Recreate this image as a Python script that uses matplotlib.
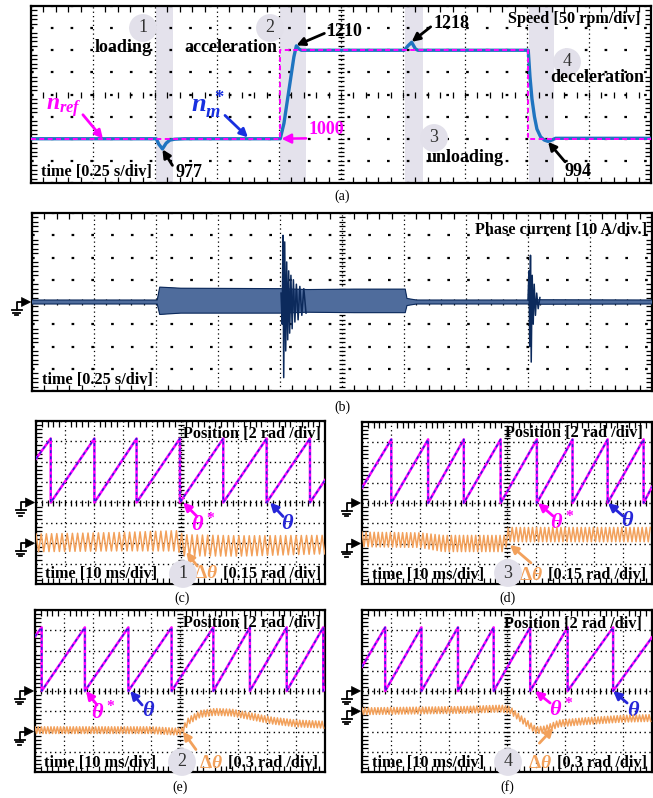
import numpy as np
import matplotlib
matplotlib.use("Agg")
import matplotlib.pyplot as plt
from matplotlib.collections import LineCollection
from matplotlib.lines import Line2D
from matplotlib.patches import Polygon
from matplotlib.ticker import MultipleLocator

plt.rcParams['font.family'] = ['Liberation Serif', 'DejaVu Serif']
plt.rcParams['mathtext.fontset'] = 'custom'
plt.rcParams['mathtext.rm'] = 'Liberation Serif:bold'
plt.rcParams['mathtext.it'] = 'Liberation Serif:italic:bold'
plt.rcParams['mathtext.bf'] = 'Liberation Serif:bold'
plt.rcParams['hatch.linewidth'] = 0.5

W_PX, H_PX = 653, 798

# ---- (a) speed, time [s], speed [rpm]
speed_ref_t = [0.0, 1.005, 1.005, 2.005, 2.005, 2.5]
speed_ref_rpm = [1000, 1000, 1200, 1200, 1000, 1000]
speed_meas_t = [0.0, 0.505, 0.515, 0.53, 0.545, 0.56, 0.58, 0.62, 1.005, 1.02, 1.04, 1.06,
                1.07, 1.08, 1.09, 1.505, 1.52, 1.535, 1.55, 1.56, 2.005, 2.012, 2.02, 2.03,
                2.04, 2.055, 2.07, 2.085, 2.1, 2.115, 2.5]
speed_meas_rpm = [1000, 1000, 988, 977, 990, 997, 999, 1000, 1000, 1035, 1110, 1185,
                  1210, 1203, 1200, 1200, 1210, 1218, 1203, 1200, 1200, 1140, 1090, 1050,
                  1022, 1004, 997, 994, 997, 1001, 1001]
shade_start_s = [0.504, 1.004, 1.508, 2.008]
shade_end_s = [0.573, 1.109, 1.581, 2.109]
stage_numbers = ['1', '2', '3', '4']
stage_names = ['loading', 'acceleration', 'unloading', 'deceleration']

# ---- (b) phase current, time [s], current [A]
current_env_t = [0.0, 0.505, 0.515, 0.60, 1.0, 1.11, 1.3, 1.505, 1.512, 1.55, 2.0, 2.05, 2.5]
current_env_hi = [0.9, 0.9, 6.7, 6.2, 6.0, 5.6, 5.8, 5.8, 1.6, 0.9, 0.9, 1.0, 0.9]
current_env_lo = [-0.9, -0.9, -5.6, -5.0, -5.0, -4.6, -4.8, -4.8, -1.6, -0.9, -0.9, -1.0, -0.9]
acc_spike_t = [1.004, 1.009, 1.012, 1.015, 1.019, 1.023, 1.027, 1.031, 1.035, 1.039,
               1.044, 1.049, 1.054, 1.060, 1.066, 1.073, 1.080, 1.088, 1.096, 1.105]
acc_spike_a = [4, -10, 30, -34, 27, -22, 18, -17, 14, -14, 12, -12, 10, -9, 8, -8, 7, -6, 6, -5]
dec_spike_t = [2.000, 2.004, 2.007, 2.010, 2.013, 2.017, 2.021, 2.025, 2.030, 2.035, 2.041, 2.048]
dec_spike_a = [1, 14, -20, 21, -27, 12, -10, 8, -6, 4, -3, 2]

# ---- (c)-(f) rotor position [rad] and error [rad], time [ms]
pos_c_reset_ms = [5.1, 20.2, 34.8, 49.8, 64.8, 79.8, 94.8]
pos_c_start_end = [4.3, 2.2]
pos_d_reset_ms = [10.1, 22.8, 35.1, 47.8, 60.3, 72.6, 84.7, 97.1]
pos_d_start_end = [1.5, 1.6]
pos_e_reset_ms = [2.3, 17.2, 32.2, 47.1, 61.5, 74.1, 86.8, 99.4]
pos_e_start_end = [5.4, 0.3]
pos_f_reset_ms = [8.0, 20.5, 33.1, 45.4, 58.0, 70.9, 86.6]
pos_f_start_end = [2.4, 5.3]

dth_c_t = [0, 30, 49, 51, 70, 100]
dth_c_mean = [0.003, 0.012, 0.018, -0.015, -0.02, -0.01]
dth_c_amp = [0.065, 0.068, 0.075, 0.078, 0.075, 0.068]
dth_d_t = [0, 20, 28, 49, 50.5, 100]
dth_d_mean = [0.03, 0.025, 0.0, 0.0, 0.066, 0.066]
dth_d_amp = [0.054, 0.054, 0.06, 0.06, 0.053, 0.053]
dth_e_t = [0, 40, 48, 50.5, 53, 57, 62, 68, 75, 82, 90, 100]
dth_e_mean = [0.02, 0.02, 0.0, 0.0, 0.16, 0.26, 0.29, 0.28, 0.22, 0.16, 0.12, 0.1]
dth_e_amp = [0.05, 0.05, 0.05, 0.05, 0.05, 0.05, 0.05, 0.05, 0.05, 0.05, 0.05, 0.05]
dth_f_t = [0, 35, 48, 51, 55, 60, 63, 68, 76, 90, 100]
dth_f_mean = [0.0, 0.02, 0.04, 0.02, -0.12, -0.28, -0.27, -0.18, -0.15, -0.11, -0.1]
dth_f_amp = [0.05, 0.05, 0.05, 0.05, 0.05, 0.05, 0.05, 0.05, 0.05, 0.05, 0.05]
ripple_period_ms = [1.8, 1.4, 1.1, 1.1]
dth_scale = ['0.15', '0.15', '0.3', '0.3']

MAGENTA = '#ff00ff'
NM_BLUE = '#1f74c0'
LABEL_BLUE = '#1830e0'
THETA_BLUE = '#2626d8'
ORANGE = '#f2a15c'
NAVY = '#0c2a5c'
SHADE = '#e4e2ec'
CIRCLE = '#e2e0ea'
TXT = 11.7


def fx(x):
    return x / W_PX


def fy(y):
    return 1 - y / H_PX


def put(x, y, s, **kw):
    kw.setdefault('va', 'center')
    return fig.text(fx(x), fy(y), s, **kw)


def circled(x, y, s):
    put(x, y, s, ha='center', fontsize=13, color='#333333',
        bbox=dict(boxstyle='circle,pad=0.3', fc=CIRCLE, ec='none'))


def scope_axes(box, xlim, ylim, fine_rows=True):
    x0, y0, x1, y1 = box
    ax = fig.add_axes([fx(x0), fy(y1), (x1 - x0) / W_PX, (y1 - y0) / H_PX])
    ax.set_xlim(xlim)
    ax.set_ylim(ylim)
    dx = (xlim[1] - xlim[0]) / 10
    dy = (ylim[1] - ylim[0]) / 8
    ax.xaxis.set_major_locator(MultipleLocator(dx))
    ax.xaxis.set_minor_locator(MultipleLocator(dx / 5))
    ax.yaxis.set_major_locator(MultipleLocator(dy))
    ax.yaxis.set_minor_locator(MultipleLocator(dy / 5))
    ax.tick_params(which='both', direction='in', top=True, right=True,
                   labelbottom=False, labelleft=False, width=0.9)
    ax.tick_params(which='major', length=0)
    ax.tick_params(which='minor', length=4)
    for sp in ax.spines.values():
        sp.set_linewidth(1.6)
    ax.grid(axis='x', which='major', ls=(0, (1, 2.5)), color='k', lw=0.9)
    ax.grid(axis='y', which='major', ls=(0, (1, 2.5)) if fine_rows else (0, (1.2, 7.7)),
            color='k', lw=1.0 if fine_rows else 1.6)
    # crosshair with dense ticks
    w, h = x1 - x0, y1 - y0
    segs = [[(0.5 - 3 / w, f), (0.5 + 3 / w, f)] for f in np.linspace(0, 1, 41)]
    segs += [[(f, 0.5 - 3 / h), (f, 0.5 + 3 / h)] for f in np.linspace(0, 1, 51)]
    ax.add_collection(LineCollection(segs, colors='k', linewidths=0.9,
                                     transform=ax.transAxes, zorder=2))
    return ax


def ground(ax, yval):
    # oscilloscope ground marker on the left edge of a channel
    inv = fig.transFigure.inverted()
    xf, yf = inv.transform(ax.transData.transform((ax.get_xlim()[0], yval)))
    xt = xf - 1.5 / W_PX
    px, py = 1 / W_PX, 1 / H_PX
    fig.add_artist(Polygon([(xt, yf), (xt - 9 * px, yf + 4.5 * py), (xt - 9 * px, yf - 4.5 * py)],
                           closed=True, fc='k', ec='k', lw=0.5, transform=fig.transFigure))
    xs = xt - 14 * px
    fig.add_artist(Line2D([xt - 9 * px, xs, xs], [yf, yf, yf - 8 * py], color='k', lw=1.3,
                          transform=fig.transFigure))
    for k, half in enumerate([5, 3.2, 1.5]):
        yy = yf - (8 + 2.6 * k) * py
        fig.add_artist(Line2D([xs - half * px, xs + half * px], [yy, yy], color='k', lw=1.3,
                              transform=fig.transFigure))


def sawtooth(resets, start_end, t_end=100.0, top=2 * np.pi):
    t, v = [0.0], [start_end[0]]
    for r in resets:
        t += [r, r]
        v += [top, 0.0]
    t.append(t_end)
    v.append(start_end[1])
    return t, v


def ripple(t_key, mean_key, amp_key, period, t_end=100.0):
    tt = np.arange(0.0, t_end + 1e-9, period / 2)
    sign = np.where(np.arange(tt.size) % 2 == 0, 1.0, -1.0)
    return tt, np.interp(tt, t_key, mean_key) + sign * np.interp(tt, t_key, amp_key)


def arrow(ax, xy, tail, color):
    ax.annotate('', xy=xy, xytext=tail, textcoords='offset pixels', zorder=6,
                annotation_clip=False,
                arrowprops=dict(arrowstyle='-|>', color=color, lw=2.0, mutation_scale=12,
                                shrinkA=0, shrinkB=0))


def label(ax, xy, off, s, color, **kw):
    kw.setdefault('ha', 'center')
    ax.annotate(s, xy=xy, xytext=off, textcoords='offset pixels', color=color,
                va='center', zorder=6, annotation_clip=False, **kw)


fig = plt.figure(figsize=(W_PX / 100, H_PX / 100), dpi=100)

# ---------------- (a) speed
ax_a = scope_axes((31, 6, 651, 183), (0, 2.5), (900, 1300), fine_rows=False)
for s, e in zip(shade_start_s, shade_end_s):
    ax_a.axvspan(s, e, color=SHADE, lw=0, zorder=0.5)
ax_a.plot(speed_meas_t, speed_meas_rpm, color=NM_BLUE, lw=2.4, zorder=3, solid_joinstyle='round')
ax_a.plot(speed_ref_t, speed_ref_rpm, color=MAGENTA, lw=1.4, ls=(0, (2.5, 1.8)), zorder=4)

stage_num_px = [(143, 28), (270, 28), (434, 138), (567, 62)]
stage_name_px = [(123, 47), (231, 47), (465, 157), (597, 78)]
for n, (cx, cy), name, (tx, ty) in zip(stage_numbers, stage_num_px, stage_names, stage_name_px):
    circled(cx, cy, n)
    put(tx, ty, name, ha='center', fontsize=13, fontweight='bold')

put(641, 19, 'Speed [50 rpm/div]', ha='right', fontsize=TXT, fontweight='bold')
put(41, 172, 'time [0.25 s/div]', ha='left', fontsize=TXT, fontweight='bold')

arrow(ax_a, (0.29, 1000), (-20, 24), MAGENTA)
label(ax_a, (0.29, 1000), (-39, 31), r'$n_{ref}$', MAGENTA, fontsize=17)
arrow(ax_a, (0.875, 1003), (-23, 22), LABEL_BLUE)
label(ax_a, (0.875, 1003), (-40, 33), r'$n_m^{\ *}$', LABEL_BLUE, fontsize=19)
ax_a.annotate('1000', xy=(1.01, 1000), xytext=(63, 1), textcoords='offset pixels',
              color=MAGENTA, fontsize=13, fontweight='bold', ha='right', va='bottom', zorder=6,
              arrowprops=dict(arrowstyle='-|>', color=MAGENTA, lw=1.8, mutation_scale=14,
                              shrinkA=0, shrinkB=0, relpos=(1.0, 0.0)))
peak_labels = [((0.53, 976), (10, -16), (27, -23), '977', 'center'),
               ((1.07, 1211), (28, 12), (30, 14), '1210', 'left'),
               ((1.535, 1219), (19, 15), (22, 18), '1218', 'left'),
               ((2.085, 993), (17, -20), (30, -30), '994', 'center')]
for xy, tail, off, s, ha in peak_labels:
    arrow(ax_a, xy, tail, 'k')
    label(ax_a, xy, off, s, 'k', ha=ha, fontsize=13, fontweight='bold')
put(342, 196, '(a)', ha='center', fontsize=10)

# ---------------- (b) phase current
ax_b = scope_axes((32, 213, 652, 391), (0, 2.5), (-40, 40), fine_rows=False)
ax_b.fill_between(current_env_t, current_env_lo, current_env_hi, facecolor=NAVY,
                  edgecolor='#4f6c9c', hatch='|' * 24, lw=0, zorder=3)
ax_b.plot(current_env_t, current_env_hi, color=NAVY, lw=0.8, zorder=3)
ax_b.plot(current_env_t, current_env_lo, color=NAVY, lw=0.8, zorder=3)
ax_b.plot(acc_spike_t, acc_spike_a, color=NAVY, lw=1.1, zorder=4)
ax_b.plot(dec_spike_t, dec_spike_a, color=NAVY, lw=1.1, zorder=4)
ground(ax_b, 0)
put(647, 230, 'Phase current [10 A/div.]', ha='right', fontsize=TXT, fontweight='bold')
put(42, 380, 'time [0.25 s/div]', ha='left', fontsize=TXT, fontweight='bold')
put(342, 407, '(b)', ha='center', fontsize=10)

# ---------------- (c)-(f) position
panels = [
    dict(box=(36, 421, 325, 584), resets=pos_c_reset_ms, se=pos_c_start_end,
         dt=dth_c_t, dm=dth_c_mean, da=dth_c_amp, gdiv=2, num='1', letter='(c)',
         title=(321, 434), time=(45, 574), scale=(321, 574), circ=(183, 574), lab=(182, 598),
         th_star=(50.9, (14, -14), (20, -22)), th=(81.0, (13, -14), (17, -22)),
         dth_arrow=((52, -0.065), (11, -14))),
    dict(box=(362, 422, 652, 584), resets=pos_d_reset_ms, se=pos_d_start_end,
         dt=dth_d_t, dm=dth_d_mean, da=dth_d_amp, gdiv=2, num='3', letter='(d)',
         title=(643, 433), time=(372, 575), scale=(646, 575), circ=(508, 573), lab=(507, 598),
         th_star=(60.7, (15, -13), (24, -19)), th=(84.8, (15, -13), (20, -19)),
         dth_arrow=((51, -0.01), (21, -18))),
    dict(box=(35, 610, 325, 772), resets=pos_e_reset_ms, se=pos_e_start_end,
         dt=dth_e_t, dm=dth_e_mean, da=dth_e_amp, gdiv=2, num='2', letter='(e)',
         title=(321, 623), time=(44, 763), scale=(318, 763), circ=(182, 762), lab=(180, 787),
         th_star=(17.6, (11, -14), (17, -21)), th=(32.8, (12, -14), (18, -21)),
         dth_arrow=((51, 0.0), (13, -18))),
    dict(box=(362, 610, 652, 772), resets=pos_f_reset_ms, se=pos_f_start_end,
         dt=dth_f_t, dm=dth_f_mean, da=dth_f_amp, gdiv=1, num='4', letter='(f)',
         title=(642, 624), time=(372, 763), scale=(647, 763), circ=(508, 762), lab=(507, 787),
         th_star=(59.7, (15, -12), (26, -18)), th=(86.6, (14, -12), (20, -20)),
         dth_arrow=((66, -0.25), (-14, -15))),
]

for p, period, sc in zip(panels, ripple_period_ms, dth_scale):
    ax = scope_axes(p['box'], (0, 100), (-8, 8))
    t, v = sawtooth(p['resets'], p['se'])
    ax.plot(t, v, color=MAGENTA, lw=1.8, zorder=3)
    ax.plot(t, v, color=THETA_BLUE, lw=1.1, ls=(0, (2, 2)), zorder=4)
    s = float(sc)
    ax2 = ax.twinx()
    ax2.set_ylim(-(4 - p['gdiv']) * s, (4 + p['gdiv']) * s)
    ax2.set_axis_off()
    rt, rv = ripple(p['dt'], p['dm'], p['da'], period)
    ax2.plot(rt, rv, color=ORANGE, lw=1.1, zorder=3)
    ground(ax, 0)
    ground(ax2, 0)

    put(*p['title'], 'Position [2 rad /div]', ha='right', fontsize=TXT, fontweight='bold')
    put(*p['time'], 'time [10 ms/div]', ha='left', fontsize=TXT, fontweight='bold')
    sc_txt = put(*p['scale'], '[%s rad /div]' % sc, ha='right', fontsize=TXT, fontweight='bold')
    ax2.annotate(r'$\Delta\theta$', xy=(0, 0.5), xycoords=sc_txt, xytext=(-5, 0),
                 textcoords='offset pixels', ha='right', va='center',
                 fontsize=14, color=ORANGE, annotation_clip=False)
    circled(*p['circ'], p['num'])
    put(*p['lab'], p['letter'], ha='center', fontsize=10)

    for key, s_txt, col in (('th_star', r'$\theta^*$', MAGENTA), ('th', r'$\theta$', THETA_BLUE)):
        tx, tail, off = p[key]
        arrow(ax, (tx, 0.0), tail, col)
        label(ax, (tx, 0.0), off, s_txt, col, fontsize=16)
    xy, tail = p['dth_arrow']
    arrow(ax2, xy, tail, ORANGE)

fig.savefig('out.png', dpi=100)
